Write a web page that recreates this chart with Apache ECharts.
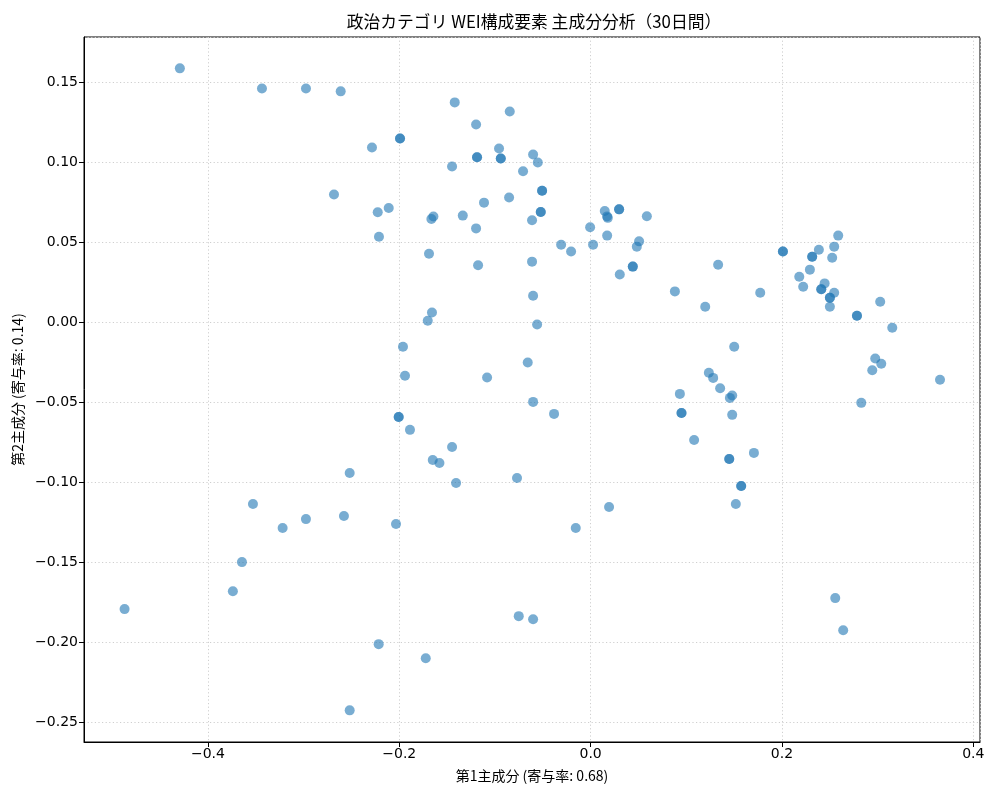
<!DOCTYPE html>
<html>
<head>
<meta charset="utf-8">
<script src="https://cdn.jsdelivr.net/npm/echarts@6/dist/echarts.min.js"></script>
<style>html,body{margin:0;padding:0;background:#fff}#c{width:1000px;height:800px}</style>
</head>
<body>
<div id="c"></div>
<script>
const pc1 = [
  -0.4293,-0.3435,-0.2975,-0.2612,-0.2285,-0.2682,-0.2225,-0.2212,-0.1992,-0.1992,
  -0.2110,-0.1420,-0.0845,-0.1197,-0.0957,-0.1187,-0.1187,-0.0939,-0.0939,-0.0601,
  -0.0552,-0.1448,-0.0706,-0.0507,-0.0507,-0.1114,-0.0852,-0.0521,-0.0521,0.0148,
  0.0298,0.0298,0.0588,-0.1664,-0.1643,-0.1336,-0.0612,-0.1197,-0.0005,0.0172,
  0.0180,0.0173,-0.0308,-0.0204,0.0026,0.0507,0.0483,0.0441,0.0441,0.0305,
  0.0881,-0.1689,-0.1176,-0.0612,-0.0601,-0.1658,-0.1702,-0.0559,-0.1961,-0.1940,
  -0.1082,-0.0657,0.0933,0.2588,0.2546,0.2386,0.2010,0.2010,0.2316,0.2316,
  0.2525,0.1333,0.2292,0.2181,0.2222,0.2446,0.2411,0.2411,0.2546,0.2501,
  0.2501,0.2501,0.1773,0.3027,0.1198,0.2784,0.2784,0.3153,0.1501,0.2975,
  0.3038,0.2944,0.3652,0.1236,0.1281,0.1354,0.1480,0.1456,0.0950,0.0950,
  0.1480,0.2829,0.1082,0.1707,0.1449,0.1449,0.1574,0.1574,0.1518,-0.0601,
  -0.0382,-0.2006,-0.2006,-0.1888,-0.1448,-0.1650,-0.1580,-0.1406,-0.0769,-0.2034,
  -0.0155,0.0193,-0.2518,-0.3529,-0.3219,-0.2975,-0.2578,-0.3644,-0.4871,-0.3739,
  -0.2215,-0.2518,-0.0751,-0.0601,-0.1723,0.2557,0.2640
];
const pc2 = [
  0.1588,0.1462,0.1462,0.1444,0.1093,0.0799,0.0688,0.0535,0.1149,0.1149,
  0.0715,0.1375,0.1318,0.1237,0.1087,0.1032,0.1032,0.1024,0.1024,0.1049,
  0.0999,0.0974,0.0944,0.0823,0.0823,0.0748,0.0780,0.0690,0.0690,0.0696,
  0.0706,0.0706,0.0663,0.0646,0.0661,0.0667,0.0638,0.0587,0.0594,0.0662,
  0.0653,0.0542,0.0485,0.0442,0.0485,0.0506,0.0473,0.0348,0.0348,0.0299,
  0.0193,0.0429,0.0356,0.0379,0.0166,0.0061,0.0009,-0.0014,-0.0153,-0.0335,
  -0.0346,-0.0252,-0.0448,0.0542,0.0473,0.0454,0.0442,0.0442,0.0410,0.0410,
  0.0404,0.0360,0.0329,0.0285,0.0222,0.0243,0.0207,0.0207,0.0185,0.0153,
  0.0153,0.0097,0.0185,0.0128,0.0097,0.0041,0.0041,-0.0034,-0.0153,-0.0227,
  -0.0260,-0.0300,-0.0360,-0.0316,-0.0348,-0.0413,-0.0458,-0.0473,-0.0567,-0.0567,
  -0.0579,-0.0504,-0.0736,-0.0817,-0.0855,-0.0855,-0.1024,-0.1024,-0.1137,-0.0498,
  -0.0573,-0.0592,-0.0592,-0.0673,-0.0780,-0.0861,-0.0880,-0.1005,-0.0974,-0.1262,
  -0.1287,-0.1155,-0.0943,-0.1137,-0.1287,-0.1231,-0.1212,-0.1500,-0.1794,-0.1682,
  -0.2013,-0.2427,-0.1838,-0.1857,-0.2101,-0.1725,-0.1926
];
const titleText = '政治カテゴリ WEI構成要素 主成分分析（30日間）';
const xName = '第1主成分 (寄与率: 0.68)';
const yName = '第2主成分 (寄与率: 0.14)';

const points = pc1.map((v, i) => [v, pc2[i]]);
const FONT = '"Noto Sans CJK JP", "DejaVu Sans", sans-serif';
const TICKFONT = '"DejaVu Sans", sans-serif';
const fmt = d => v => (v < 0 ? '\u2212' : '') + Math.abs(v).toFixed(d);
const gridLine = { show: true, lineStyle: { color: '#cfcfcf', type: [1.2, 2.4], width: 1 } };

const chart = echarts.init(document.getElementById('c'));
chart.setOption({
  animation: false,
  backgroundColor: '#fff',
  title: {
    text: titleText, left: 529, top: 8, textAlign: 'center',
    textStyle: { fontFamily: FONT, fontSize: 16.8, fontWeight: 'normal', color: '#000' }
  },
  grid: { left: 84, right: 20, top: 37, bottom: 58, show: true, borderColor: '#000', borderWidth: 1, backgroundColor: 'transparent' },
  xAxis: {
    type: 'value', min: -0.5295, max: 0.407, splitNumber: 5,
    name: xName, nameLocation: 'middle', nameGap: 27,
    nameTextStyle: { fontFamily: FONT, fontSize: 14, color: '#000' },
    axisLine: { show: true, onZero: false, lineStyle: { color: '#000', width: 1 } },
    axisTick: { show: true, length: 5, lineStyle: { color: '#000' } },
    axisLabel: { showMinLabel: false, showMaxLabel: false, formatter: fmt(1), fontFamily: TICKFONT, fontSize: 14, color: '#000', margin: 5 },
    splitLine: gridLine
  },
  yAxis: {
    type: 'value', min: -0.2625, max: 0.1784, splitNumber: 9,
    name: yName, nameLocation: 'middle', nameGap: 57,
    nameTextStyle: { fontFamily: FONT, fontSize: 14, color: '#000' },
    axisLine: { show: true, onZero: false, lineStyle: { color: '#000', width: 1 } },
    axisTick: { show: true, length: 5, lineStyle: { color: '#000' } },
    axisLabel: { showMinLabel: false, showMaxLabel: false, formatter: fmt(2), fontFamily: TICKFONT, fontSize: 14, color: '#000', margin: 6 },
    splitLine: gridLine
  },
  series: [{
    type: 'scatter', data: points, symbolSize: 10,
    itemStyle: { color: 'rgba(31,119,180,0.75)' }
  }]
});
</script>
</body>
</html>
